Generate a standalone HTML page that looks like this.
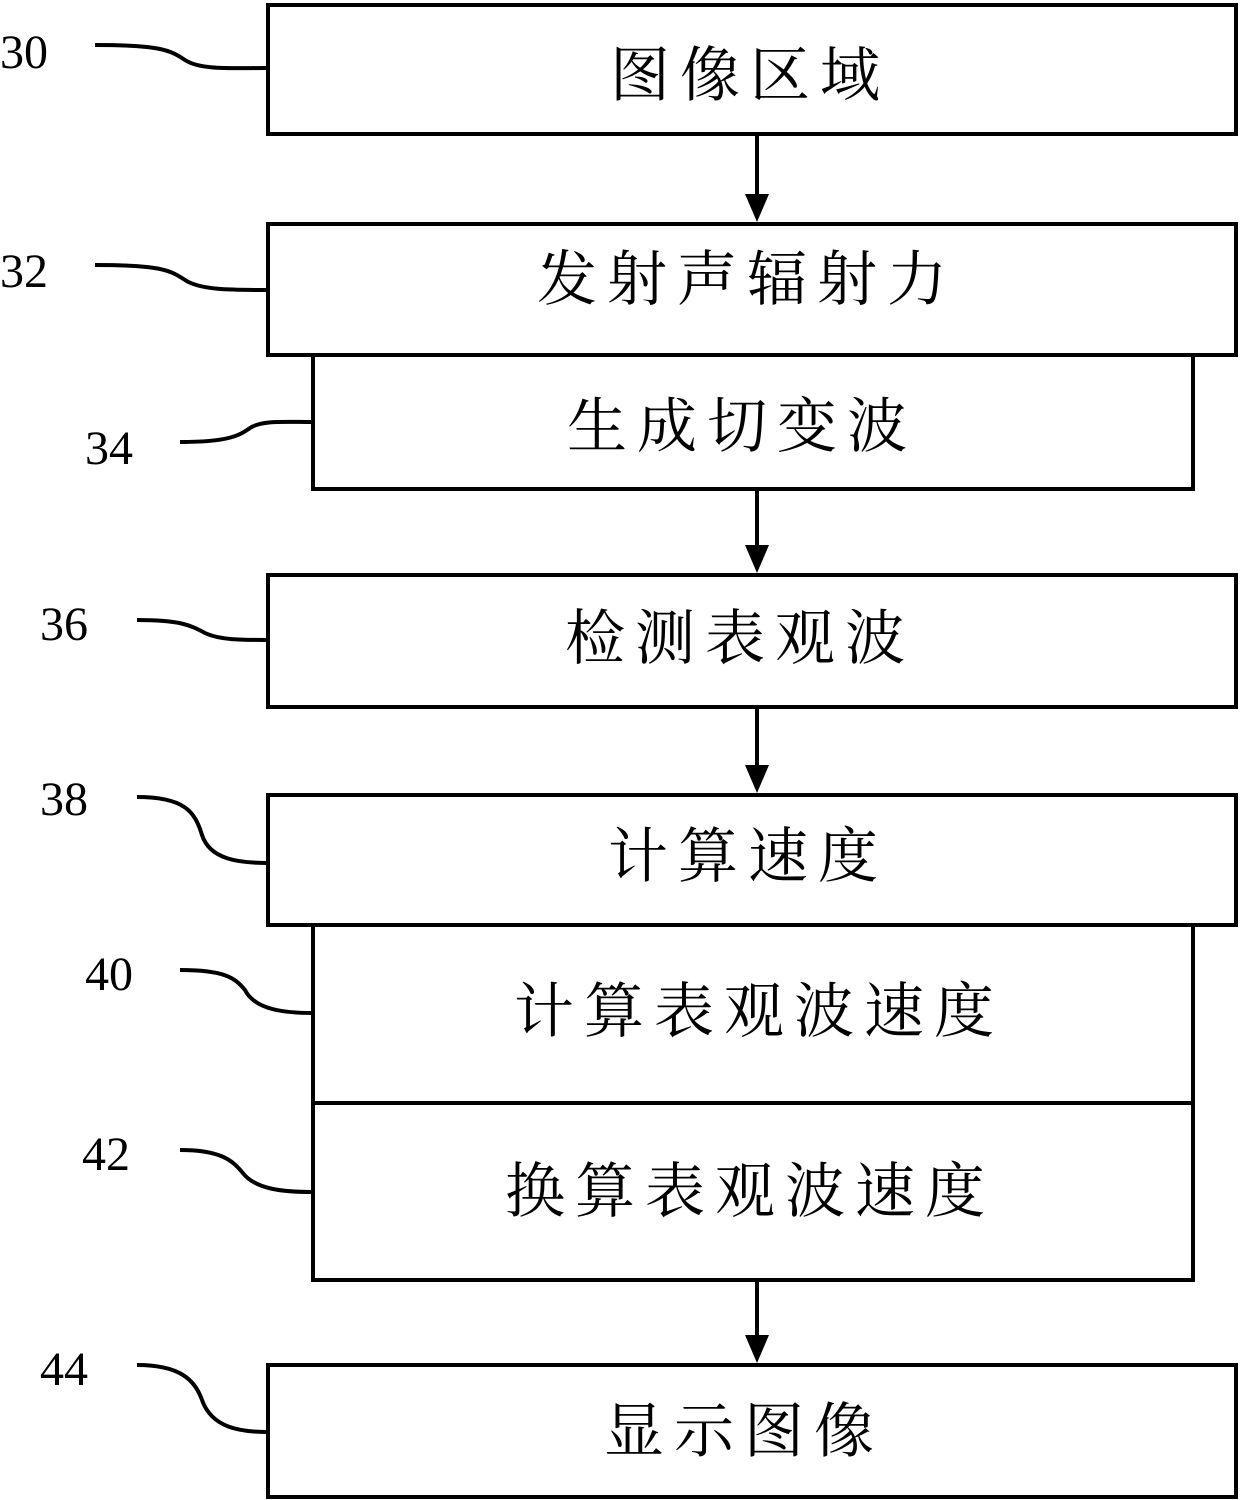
<!DOCTYPE html>
<html><head><meta charset="utf-8"><style>
html,body{margin:0;padding:0;background:#fff;}
svg{display:block;}
.t{font-family:"Liberation Serif","Noto Serif CJK SC","Noto Sans CJK SC",serif;font-size:60px;fill:#000;text-anchor:middle;letter-spacing:10px;}
.n{font-family:"Liberation Serif",serif;font-size:48px;fill:#000;}
rect{fill:#fff;stroke:#000;stroke-width:4;}
.l{fill:none;stroke:#000;stroke-width:4;}
</style></head><body>
<svg width="1240" height="1500" viewBox="0 0 1240 1500">
<g>
<line class="l" x1="757" y1="134" x2="757" y2="196"/><path d="M745,194 L769,194 L757,222 z"/>
<line class="l" x1="757" y1="489" x2="757" y2="547"/><path d="M745,545 L769,545 L757,573 z"/>
<line class="l" x1="757" y1="707" x2="757" y2="767"/><path d="M745,765 L769,765 L757,793 z"/>
<line class="l" x1="757" y1="1280" x2="757" y2="1337"/><path d="M745,1335 L769,1335 L757,1363 z"/>
</g>
<rect x="268" y="5" width="968" height="129"/>
<rect x="268" y="224" width="968" height="131"/>
<rect x="313" y="355" width="880" height="134"/>
<rect x="268" y="575" width="968" height="132"/>
<rect x="268" y="795" width="968" height="130"/>
<rect x="313" y="925" width="880" height="178"/>
<rect x="313" y="1103" width="880" height="177"/>
<rect x="268" y="1365" width="968" height="132"/>
<text class="t" x="750" y="96">图像区域</text>
<text class="t" x="747" y="300">发射声辐射力</text>
<text class="t" x="742" y="447">生成切变波</text>
<text class="t" x="740" y="659">检测表观波</text>
<text class="t" x="748" y="877">计算速度</text>
<text class="t" x="759" y="1032">计算表观波速度</text>
<text class="t" x="750" y="1212">换算表观波速度</text>
<text class="t" x="744" y="1452">显示图像</text>
<text class="n" x="0" y="68">30</text>
<text class="n" x="0" y="287">32</text>
<text class="n" x="85" y="464">34</text>
<text class="n" x="40" y="640">36</text>
<text class="n" x="40" y="815">38</text>
<text class="n" x="85" y="990">40</text>
<text class="n" x="82" y="1170">42</text>
<text class="n" x="40" y="1385">44</text>
<path class="l" d="M95,45 C160,45 170,50 185,60 C200,70 230,68 268,68"/>
<path class="l" d="M95,265 C160,265 170,270 185,280 C200,290 230,290 268,290"/>
<path class="l" d="M180,442 C230,442 240,435 250,428 C262,420 285,422 313,422"/>
<path class="l" d="M137,620 C180,620 190,625 205,633 C220,640 240,640 268,640"/>
<path class="l" d="M137,797 C185,797 195,812 202,835 C210,860 240,863 268,863"/>
<path class="l" d="M180,970 C225,970 235,978 245,990 C255,1010 285,1013 313,1013"/>
<path class="l" d="M180,1150 C220,1150 232,1160 242,1172 C255,1190 285,1192 313,1192"/>
<path class="l" d="M137,1365 C180,1365 195,1380 202,1400 C212,1428 240,1432 268,1432"/>
</svg>
</body></html>
